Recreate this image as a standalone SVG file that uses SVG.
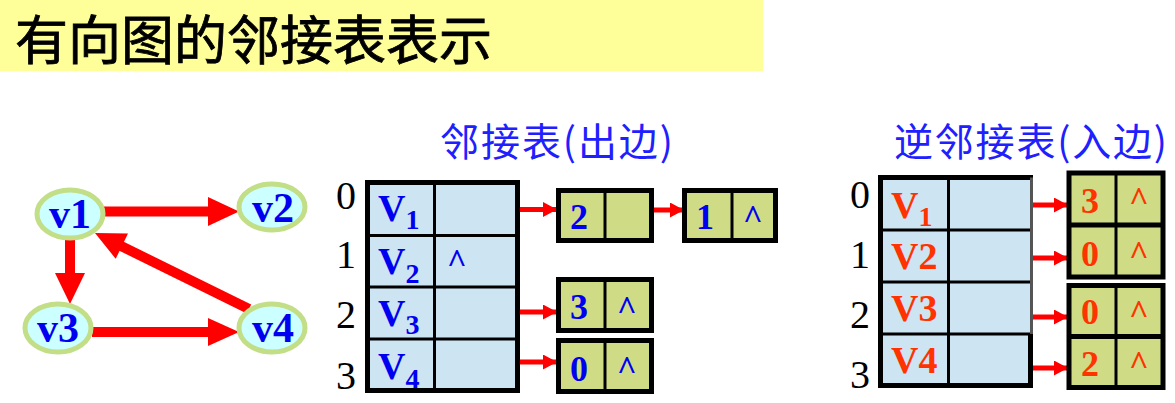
<svg xmlns="http://www.w3.org/2000/svg" width="1175" height="403" viewBox="0 0 1175 403">
<defs>
<style>
.cjk{font-family:"Noto Sans CJK SC","Noto Sans CJK JP",sans-serif;}
.ser{font-family:"Liberation Serif","Times New Roman",serif;}
.blue{fill:#0000f0;}
.red{fill:#ff3300;}
.idx{font-size:40px;fill:#000;}
.ell{fill:#ccffff;stroke:#c2de86;stroke-width:5;}
.vt{font-size:42px;font-weight:bold;fill:#0000f0;text-anchor:middle;}
.tab{fill:#cde4f2;}
.grid{stroke:#000;stroke-width:3;fill:none;}
.outer{stroke:#000;stroke-width:5;fill:none;}
.node{fill:#cfdb85;stroke:#000;stroke-width:5;}
.ndiv{stroke:#000;stroke-width:3;}
.nv{font-size:36px;font-weight:bold;text-anchor:middle;}
.car{font-size:34px;font-weight:bold;text-anchor:middle;}
.V{font-size:38px;font-weight:bold;}
.sub{font-size:28px;font-weight:bold;}
.gline{stroke:#ff0000;stroke-width:10;fill:none;}
.gh{fill:#ff0000;}
.tline{stroke:#ff0000;stroke-width:5;fill:none;}
</style>
<marker id="ah" viewBox="0 0 14 15" refX="14" refY="7.5" markerWidth="14" markerHeight="15" markerUnits="userSpaceOnUse" orient="auto">
<path d="M0,0 L14,7.5 L0,15 Z" fill="#ff0000"/>
</marker>
</defs>
<rect width="1175" height="403" fill="#ffffff"/>

<g id="title">
<rect x="0" y="0" width="763" height="71" fill="#ffff99"/>
<text x="15" y="60" class="cjk" font-size="53" fill="#000" stroke="#000" stroke-width="0.8">有向图的邻接表表示</text>
</g>

<g id="connectors">
<line class="gline" x1="104" y1="211.5" x2="210" y2="211.5"/>
<polygon class="gh" points="208,197 239,211.5 208,226"/>
<line class="gline" x1="70" y1="238" x2="70" y2="275"/>
<polygon class="gh" points="55,273 85,273 70,304"/>
<line class="gline" x1="92" y1="332" x2="210" y2="332"/>
<polygon class="gh" points="208,318 239,332 208,346"/>
<line class="gline" x1="249" y1="309" x2="119" y2="245"/>
<polygon class="gh" points="95,233 128,233.6 115.7,258.8"/>

<line class="tline" x1="502" y1="209.5" x2="557" y2="209.5" marker-end="url(#ah)"/>
<line class="tline" x1="628" y1="210" x2="684" y2="210" marker-end="url(#ah)"/>
<line class="tline" x1="502" y1="312" x2="557" y2="312" marker-end="url(#ah)"/>
<line class="tline" x1="502" y1="362" x2="557" y2="362" marker-end="url(#ah)"/>

<line class="tline" x1="1013" y1="205" x2="1068" y2="205" marker-end="url(#ah)"/>
<line class="tline" x1="1013" y1="258" x2="1068" y2="258" marker-end="url(#ah)"/>
<line class="tline" x1="1013" y1="317" x2="1068" y2="317" marker-end="url(#ah)"/>
<line class="tline" x1="1013" y1="368" x2="1068" y2="368" marker-end="url(#ah)"/>
</g>

<g id="v1"><ellipse class="ell" cx="70" cy="214" rx="33" ry="24"/><text class="ser vt" x="70" y="228">v1</text></g>
<g id="v2"><ellipse class="ell" cx="272" cy="207" rx="33" ry="23"/><text class="ser vt" x="273" y="222">v2</text></g>
<g id="v3"><ellipse class="ell" cx="58" cy="328" rx="33" ry="24"/><text class="ser vt" x="58" y="342">v3</text></g>
<g id="v4"><ellipse class="ell" cx="272" cy="328" rx="33" ry="24"/><text class="ser vt" x="273" y="342">v4</text></g>

<g id="adj-title"><text class="cjk" x="440" y="156" font-size="39" fill="#2020ff" textLength="233" lengthAdjust="spacing">邻接表(出边)</text></g>
<g id="radj-title"><text class="cjk" x="894" y="156" font-size="39" fill="#2020ff" textLength="273" lengthAdjust="spacing">逆邻接表(入边)</text></g>

<g id="adj-index" class="ser idx">
<text x="336" y="209">0</text>
<text x="336" y="268">1</text>
<text x="336" y="328">2</text>
<text x="336" y="389">3</text>
</g>

<g id="adj-table">
<rect class="tab" x="367.5" y="182.5" width="150" height="208"/>
<line class="grid" x1="434.5" y1="182.5" x2="434.5" y2="390.5"/>
<line class="grid" x1="367.5" y1="235.5" x2="517.5" y2="235.5"/>
<line class="grid" x1="367.5" y1="287" x2="517.5" y2="287"/>
<line class="grid" x1="367.5" y1="339" x2="517.5" y2="339"/>
<rect class="outer" x="367.5" y="182.5" width="150" height="208"/>
<g class="ser blue">
<text class="V" x="378" y="221">V<tspan class="sub" dy="8">1</tspan></text>
<text class="V" x="378" y="274">V<tspan class="sub" dy="9">2</tspan></text>
<text class="V" x="378" y="326">V<tspan class="sub" dy="8">3</tspan></text>
<text class="V" x="378" y="379">V<tspan class="sub" dy="9">4</tspan></text>
<text class="car" x="457" y="272" font-size="36">^</text>
</g>
</g>

<g id="n-2" class="ser blue">
<rect class="node" x="558.5" y="190.5" width="93" height="50"/>
<line class="ndiv" x1="605" y1="190.5" x2="605" y2="240.5"/>
<text class="nv" x="579" y="229">2</text>
</g>
<g id="n-1" class="ser blue">
<rect class="node" x="684.5" y="190.5" width="91" height="50"/>
<line class="ndiv" x1="732" y1="190.5" x2="732" y2="240.5"/>
<text class="nv" x="705" y="229">1</text>
<text class="car" x="753" y="228">^</text>
</g>
<g id="n-3" class="ser blue">
<rect class="node" x="558.5" y="279.5" width="93" height="51"/>
<line class="ndiv" x1="605" y1="279.5" x2="605" y2="330.5"/>
<text class="nv" x="579" y="319">3</text>
<text class="car" x="627" y="319">^</text>
</g>
<g id="n-0" class="ser blue">
<rect class="node" x="558.5" y="340.5" width="93" height="51"/>
<line class="ndiv" x1="605" y1="340.5" x2="605" y2="391.5"/>
<text class="nv" x="579" y="381">0</text>
<text class="car" x="627" y="379">^</text>
</g>

<g id="radj-index" class="ser idx">
<text x="850" y="208">0</text>
<text x="850" y="268">1</text>
<text x="850" y="328">2</text>
<text x="850" y="388">3</text>
</g>

<g id="radj-table">
<rect class="tab" x="880.5" y="177.5" width="150" height="208"/>
<line class="grid" x1="948.5" y1="177.5" x2="948.5" y2="385.5"/>
<line class="grid" x1="880.5" y1="230" x2="1030.5" y2="230"/>
<line class="grid" x1="880.5" y1="282" x2="1030.5" y2="282"/>
<line class="grid" x1="880.5" y1="334" x2="1030.5" y2="334"/>
<path class="outer" d="M1033,177.5 H880.5 V385.5 H1030.5 V334"/>
<line x1="1031.5" y1="177.5" x2="1031.5" y2="334" stroke="#555" stroke-width="3"/>
<g class="ser red">
<text class="V" x="891" y="218">V<tspan class="sub" dy="8" font-size="26">1</tspan></text>
<text class="V" x="891" y="269">V2</text>
<text class="V" x="891" y="321">V3</text>
<text class="V" x="891" y="373">V4</text>
</g>
</g>

<g id="rn-top" class="ser red">
<rect class="node" x="1069" y="173" width="94" height="104"/>
<line class="node" x1="1069" y1="225" x2="1163" y2="225" stroke-width="6"/>
<line class="ndiv" x1="1116" y1="173" x2="1116" y2="277"/>
<text class="nv" x="1090" y="213">3</text>
<text class="car" x="1139" y="210">^</text>
<text class="nv" x="1090" y="266">0</text>
<text class="car" x="1139" y="264">^</text>
</g>
<g id="rn-bottom" class="ser red">
<rect class="node" x="1069" y="285.5" width="94" height="102"/>
<line class="node" x1="1069" y1="336.5" x2="1163" y2="336.5" stroke-width="6"/>
<line class="ndiv" x1="1116" y1="285.5" x2="1116" y2="387.5"/>
<text class="nv" x="1090" y="324">0</text>
<text class="car" x="1139" y="323">^</text>
<text class="nv" x="1090" y="376">2</text>
<text class="car" x="1139" y="374">^</text>
</g>
</svg>
